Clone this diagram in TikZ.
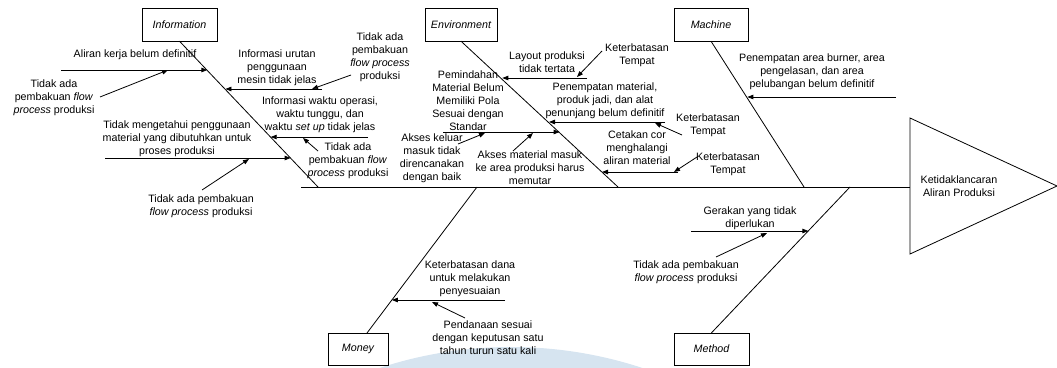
\documentclass[tikz,border=0pt]{standalone}
\usepackage{fontspec}
\setmainfont{Liberation Sans}
\usetikzlibrary{arrows.meta,calc}
\definecolor{wm}{RGB}{214,228,240}
\tikzset{
  txt/.style={inner sep=0pt, align=center, font=\fontsize{10.7}{13}\selectfont},
  catbox/.style={draw, inner sep=0pt, minimum height=33pt, font=\fontsize{10.7}{13}\selectfont\itshape},
  bone/.style={line width=0.8pt},
  cause/.style={line width=0.8pt, -{Triangle[length=6pt,width=4.5pt]}},
}
\begin{document}
\begin{tikzpicture}[x=1pt,y=-1pt]
\useasboundingbox (0,0) rectangle (1057,367);
% watermark
\begin{scope}
\clip (0,0) rectangle (1057,367);
\fill[wm] (511,767) circle (420);
\end{scope}

% category boxes
\node[catbox, minimum width=75pt] (inf) at (179.5,24.5) {Information};
\node[catbox, minimum width=72pt] (env) at (461,24.5) {Environment};
\node[catbox, minimum width=74pt] (mac) at (711,24.5) {Machine};
\node[catbox, minimum width=60pt, minimum height=32pt] (mon) at (358,349) {Money};
\node[catbox, minimum width=75pt, minimum height=32pt] (met) at (711.5,349) {Method};

% effect
\coordinate (tA) at (910,118);
\coordinate (tB) at (1057,186);
\coordinate (tC) at (910,254);
\draw[line width=0.8pt] (tA) -- (tB) -- (tC) -- cycle;
\node[txt] (eff) at (959,186.5) {Ketidaklancaran\\Aliran Produksi};

% spine
\coordinate (s0) at (301,187);
\coordinate (sE) at (910,187);
\draw[line width=0.9pt] (s0) -- (sE);

% bones
\coordinate (bI) at (318,187);
\coordinate (bE) at (618,187);
\coordinate (bM) at (804,187);
\coordinate (bMo) at (477,187);
\coordinate (bMe) at (850,187);
\coordinate (monTop) at (367,333);
\draw[bone] (inf.south) -- (bI);
\draw[bone] (env.south) -- (bE);
\draw[bone] (mac.south) -- (bM);
\draw[bone] (monTop) -- (bMo);
\draw[bone] (met.north) -- (bMe);

% ---------- Information ----------
\node[txt] (c1) at (135,55) {Aliran kerja belum definitif};
\coordinate (c1t) at (61,70); \coordinate (c1h) at (207.4,70);
\draw[cause] (c1t) -- (c1h);
\node[txt] (s1) at (54,98) {Tidak ada\\pembakuan \textit{flow}\\\textit{process} produksi};
\coordinate (s1t) at (100,97); \coordinate (s1h) at (168,70);
\draw[cause] (s1t) -- (s1h);

\node[txt] (c2) at (277,68) {Informasi urutan\\penggunaan\\mesin tidak jelas};
\coordinate (c2t) at (322,89); \coordinate (c2h) at (225.4,89);
\draw[cause] (c2t) -- (c2h);
\node[txt] (s2) at (380,57) {Tidak ada\\pembakuan\\\textit{flow process}\\produksi};
\coordinate (s2t) at (351,75); \coordinate (s2h) at (312,89);
\draw[cause] (s2t) -- (s2h);

\node[txt] (c3) at (320,115) {Informasi waktu operasi,\\waktu tunggu, dan\\waktu \textit{set up} tidak jelas};
\coordinate (c3t) at (368,137); \coordinate (c3h) at (270.7,137);
\draw[cause] (c3t) -- (c3h);
\node[txt] (s3) at (348,161) {Tidak ada\\pembakuan \textit{flow}\\\textit{process} produksi};
\coordinate (s3t) at (318,151); \coordinate (s3h) at (303,138);
\draw[cause] (s3t) -- (s3h);

\node[txt] (c4) at (177,139) {Tidak mengetahui penggunaan\\material yang dibutuhkan untuk\\proses produksi};
\coordinate (c4t) at (105,158); \coordinate (c4h) at (290.6,158);
\draw[cause] (c4t) -- (c4h);
\node[txt] (s4) at (201,206) {Tidak ada pembakuan\\\textit{flow process} produksi};
\coordinate (s4t) at (202,190); \coordinate (s4h) at (249,159);
\draw[cause] (s4t) -- (s4h);

% ---------- Environment ----------
\node[txt] (c5) at (547,62) {Layout produksi\\tidak tertata};
\coordinate (c5t) at (587,78); \coordinate (c5h) at (502.3,78);
\draw[cause] (c5t) -- (c5h);
\node[txt] (s5) at (637,55) {Keterbatasan\\Tempat};
\coordinate (s5t) at (602,51); \coordinate (s5h) at (577,77);
\draw[cause] (s5t) -- (s5h);

\node[txt] (c6) at (468,101) {Pemindahan\\Material Belum\\Memiliki Pola\\Sesuai dengan\\Standar};
\coordinate (c6t) at (443,132); \coordinate (c6h) at (559.6,132);
\draw[cause] (c6t) -- (c6h);
\node[txt] (s6a) at (432,158) {Akses keluar\\masuk tidak\\direncanakan\\dengan baik};
\coordinate (s6at) at (458,144); \coordinate (s6ah) at (485,133);
\draw[cause] (s6at) -- (s6ah);
\node[txt] (s6b) at (530,168) {Akses material masuk\\ke area produksi harus\\memutar};
\coordinate (s6bt) at (513,151); \coordinate (s6bh) at (533,133);
\draw[cause] (s6bt) -- (s6bh);

\node[txt] (c7) at (605,101) {Penempatan material,\\produk jadi, dan alat\\penunjang belum definitif};
\coordinate (c7t) at (665,122); \coordinate (c7h) at (549,122);
\draw[cause] (c7t) -- (c7h);
\node[txt] (s7) at (708,125) {Keterbatasan\\Tempat};
\coordinate (s7t) at (682,135); \coordinate (s7h) at (655,123);
\draw[cause] (s7t) -- (s7h);

\node[txt] (c8) at (637,148) {Cetakan cor\\menghalangi\\aliran material};
\coordinate (c8t) at (678,172); \coordinate (c8h) at (602,172);
\draw[cause] (c8t) -- (c8h);
\node[txt] (s8) at (728,164) {Keterbatasan\\Tempat};
\coordinate (s8t) at (697,157); \coordinate (s8h) at (674,172);
\draw[cause] (s8t) -- (s8h);

% ---------- Machine ----------
\node[txt] (c9) at (812,72) {Penempatan area burner, area\\pengelasan, dan area\\pelubangan belum definitif};
\coordinate (c9t) at (896,97); \coordinate (c9h) at (747.3,97);
\draw[cause] (c9t) -- (c9h);

% ---------- Money ----------
\node[txt] (c10) at (470,279) {Keterbatasan dana\\untuk melakukan\\penyesuaian};
\coordinate (c10t) at (505,300); \coordinate (c10h) at (391.9,300);
\draw[cause] (c10t) -- (c10h);
\node[txt] (s10) at (488,338) {Pendanaan sesuai\\dengan keputusan satu\\tahun turun satu kali};
\coordinate (s10t) at (465,318); \coordinate (s10h) at (432,302);
\draw[cause] (s10t) -- (s10h);

% ---------- Method ----------
\node[txt] (c11) at (750,218) {Gerakan yang tidak\\diperlukan};
\coordinate (c11t) at (691,231); \coordinate (c11h) at (808.4,231);
\draw[cause] (c11t) -- (c11h);
\node[txt] (s11) at (686,272) {Tidak ada pembakuan\\\textit{flow process} produksi};
\coordinate (s11t) at (716,257); \coordinate (s11h) at (767,233);
\draw[cause] (s11t) -- (s11h);
\end{tikzpicture}
\end{document}
